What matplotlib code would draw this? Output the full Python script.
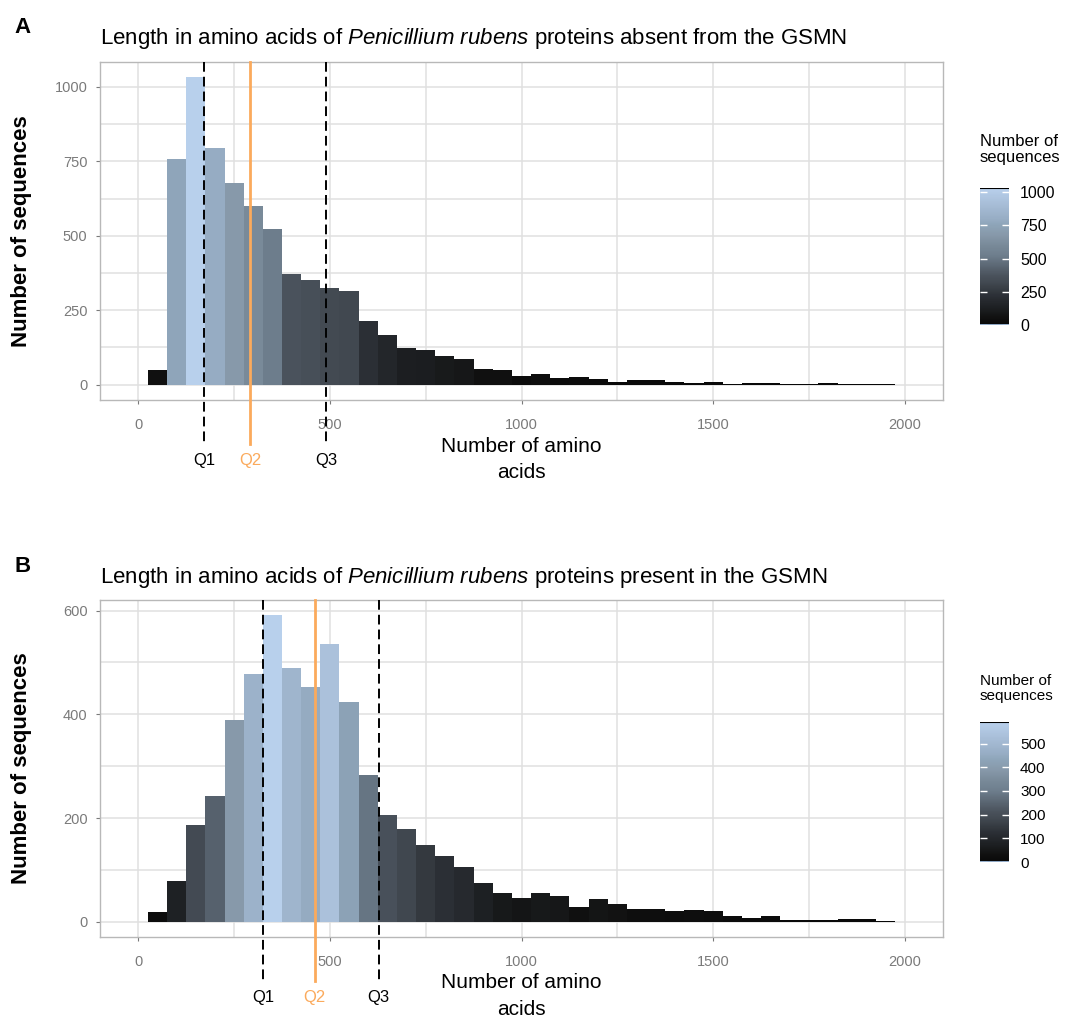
import matplotlib
matplotlib.use("Agg")
import matplotlib.pyplot as plt
import numpy as np
from matplotlib.cm import ScalarMappable
from matplotlib.colors import LinearSegmentedColormap, Normalize
from matplotlib.ticker import MultipleLocator

plt.rcParams["font.family"] = ["Liberation Sans", "DejaVu Sans"]
plt.rcParams["mathtext.fontset"] = "custom"
plt.rcParams["mathtext.rm"] = "Liberation Sans"
plt.rcParams["mathtext.it"] = "Liberation Sans:italic"

# histogram bins (binwidth 50, centred on multiples of 50)
bin_centers = np.arange(50, 2000, 50)

absent_counts = [50, 758, 1032, 795, 678, 601, 523, 372, 352, 325,
                 315, 215, 168, 124, 117, 97, 87, 54, 50, 30,
                 37, 22, 27, 20, 10, 14, 14, 10, 7, 10,
                 3, 7, 4, 1, 2, 7, 1, 1, 1]
present_counts = [18, 79, 187, 243, 389, 477, 591, 489, 452, 535,
                  424, 283, 206, 178, 147, 126, 106, 74, 55, 45,
                  55, 49, 29, 43, 35, 24, 24, 20, 22, 20,
                  10, 8, 10, 4, 4, 4, 6, 6, 2]

absent_quartiles = [172, 292, 490]
present_quartiles = [326, 460, 627]

absent_yticks = [0, 250, 500, 750, 1000]
present_yticks = [0, 200, 400, 600]
absent_cbar_ticks = [0, 250, 500, 750, 1000]
present_cbar_ticks = [0, 100, 200, 300, 400, 500]

# fill gradient, black -> light blue
cmap = LinearSegmentedColormap.from_list("seq", [
    (0.00, "#080808"), (0.05, "#101010"), (0.10, "#191b1d"),
    (0.21, "#2b2f35"), (0.31, "#424951"), (0.36, "#4a525c"),
    (0.51, "#6e7e8d"), (0.58, "#788998"), (0.66, "#8799aa"),
    (0.735, "#8ea5b9"), (0.77, "#96acc3"), (0.90, "#aac0da"),
    (1.00, "#b8d0ec")])

GRID = "#e0e0e0"
BORDER = "#b8b8b8"
TICKCOL = "#7a7a7a"
ORANGE = "#fbaa5c"
W, H = 1065, 1025


def px_rect(left, top, right, bottom):
    return [left / W, 1 - bottom / H, (right - left) / W, (bottom - top) / H]


def draw_panel(letter, title, counts, quartiles, yticks, ymin_step, cbar_ticks,
               ax_box, cbar_box, title_y, cbar_title_y, cbar_title_size, cbar_label_size):
    fig = plt.gcf()
    ax = fig.add_axes(px_rect(*ax_box))
    counts = np.array(counts)
    top = counts.max()
    norm = Normalize(0, top)
    ax.bar(bin_centers, counts, width=50, color=cmap(norm(counts)),
           linewidth=0, zorder=2)

    ax.set_xlim(-100, 2100)
    ax.set_ylim(-0.05 * top, 1.05 * top)
    ax.set_xticks([0, 500, 1000, 1500, 2000])
    ax.xaxis.set_minor_locator(MultipleLocator(250))
    ax.set_yticks(yticks)
    ax.yaxis.set_minor_locator(MultipleLocator(ymin_step))
    ax.grid(which="both", color=GRID, linewidth=1.1)
    ax.set_axisbelow(True)
    for sp in ax.spines.values():
        sp.set_color(BORDER)
        sp.set_linewidth(1.0)
    ax.tick_params(which="major", length=3, width=0.8, color=TICKCOL,
                   labelcolor=TICKCOL, labelsize=10.5)
    ax.tick_params(axis="x", which="major", pad=10)
    ax.tick_params(axis="y", which="major", pad=6)
    ax.tick_params(which="minor", length=0)

    ax.set_ylabel("Number of sequences", fontsize=16, fontweight="bold", va="center")
    ax.yaxis.set_label_coords(-0.093, 0.5)
    ax.set_xlabel("Number of amino\nacids", fontsize=15, linespacing=1.5)
    ax.xaxis.set_label_coords(0.5, -0.108)

    # quartile markers running below the panel
    trans = ax.get_xaxis_transform()
    for q, name in zip(quartiles, ["Q1", "Q2", "Q3"]):
        if name == "Q2":
            ax.plot([q, q], [1, -0.13], transform=trans, clip_on=False,
                    color=ORANGE, linewidth=2, zorder=4)
            col = ORANGE
        else:
            ax.plot([q, q], [1, -0.13], transform=trans, clip_on=False,
                    color="black", linewidth=1.4, linestyle=(0, (5, 2.6)), zorder=4)
            col = "black"
        ax.text(q, -0.18, name, transform=trans, ha="center", va="center",
                fontsize=12, color=col)

    fig.text(100 / W, 1 - title_y / H, title, fontsize=16, ha="left", va="baseline")
    fig.text(14 / W, 1 - (title_y - 11) / H, letter, fontsize=16, fontweight="bold",
             ha="left", va="baseline")

    # colour bar legend
    cax = fig.add_axes(px_rect(*cbar_box))
    cb = fig.colorbar(ScalarMappable(norm=norm, cmap=cmap), cax=cax)
    cb.outline.set_visible(False)
    cb.set_ticks(cbar_ticks)
    cax.tick_params(direction="in", length=5, width=1.0, color="white",
                    left=True, right=True, labelsize=cbar_label_size, pad=8)
    cax.axhline(top, color="black", linewidth=1.5)
    cax.axhline(0, color="#a9c8ea", linewidth=1.2)
    fig.text(cbar_box[0] / W, 1 - cbar_title_y / H, "Number of\nsequences",
             fontsize=cbar_title_size, ha="left", va="top", linespacing=1.05)
    return ax


fig = plt.figure(figsize=(W / 100, H / 100), dpi=100)

draw_panel("A",
           r"Length in amino acids of $\it{Penicillium\ rubens}$ proteins absent from the GSMN",
           absent_counts, absent_quartiles, absent_yticks, 125, absent_cbar_ticks,
           (100, 62, 943, 400), (980, 188, 1009, 325), 44, 134, 12, 11.5)
draw_panel("B",
           r"Length in amino acids of $\it{Penicillium\ rubens}$ proteins present in the GSMN",
           present_counts, present_quartiles, present_yticks, 100, present_cbar_ticks,
           (100, 600, 943, 937), (980, 722, 1009, 862), 583, 674, 11, 11)

fig.savefig("out.png", dpi=100)
